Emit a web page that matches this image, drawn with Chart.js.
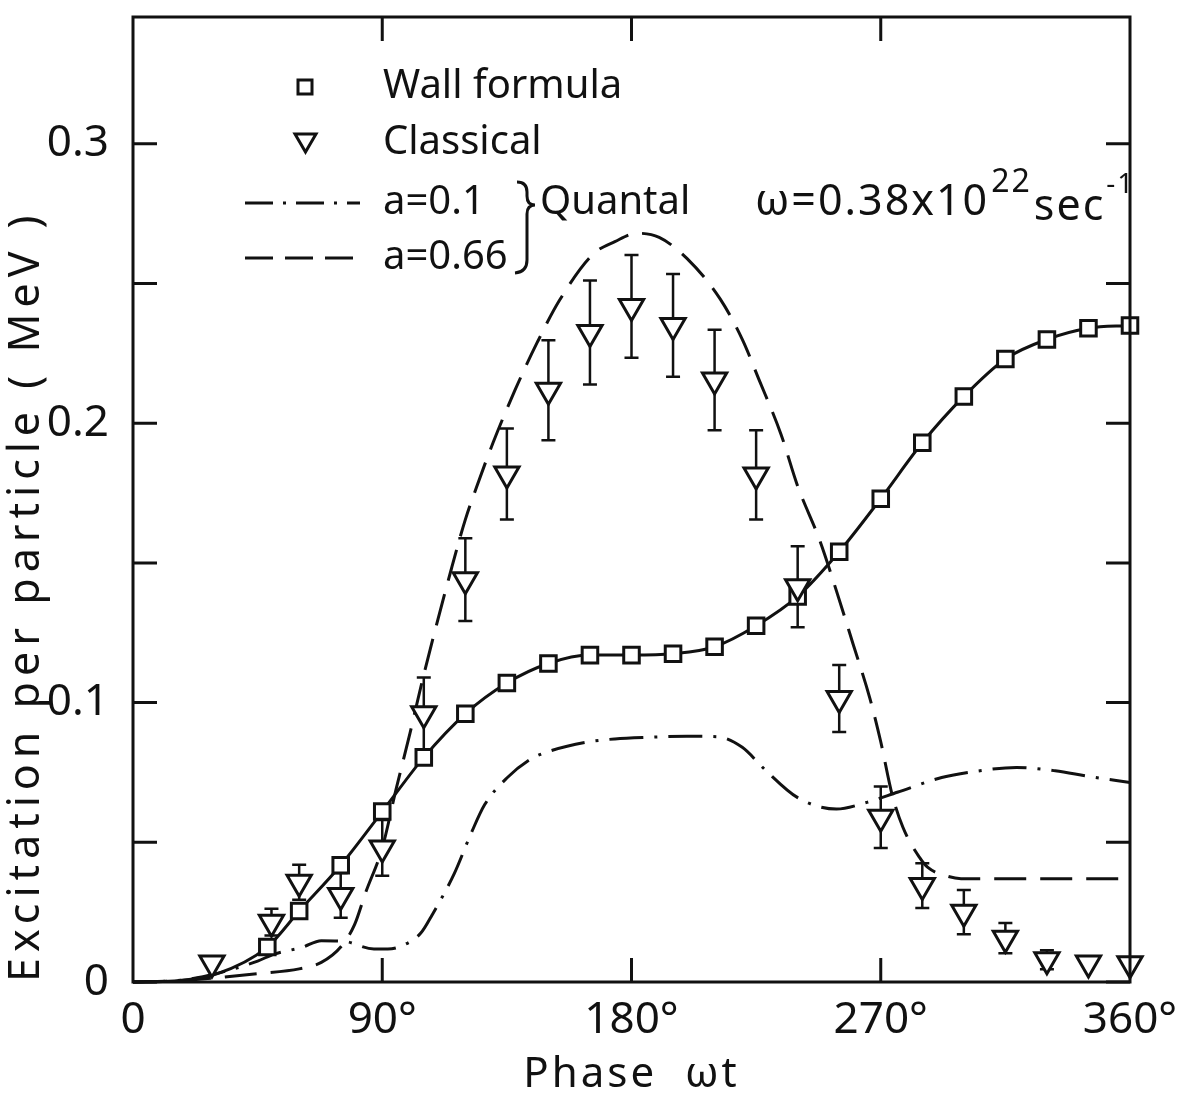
<!DOCTYPE html>
<html>
<head>
<meta charset="utf-8">
<title>Excitation per particle vs phase</title>
<script src="https://cdn.jsdelivr.net/npm/chart.js@4.4.1/dist/chart.umd.min.js"></script>
<style>
    html, body { margin: 0; padding: 0; background: #fff; }
    #wrap { position: relative; width: 1193px; height: 1102px; }
</style>
</head>
<body>
<div id="wrap"><canvas id="chart" width="1193" height="1102"></canvas></div>
<script>
// phase in degrees, excitation in MeV
const wallPhase = [0, 15, 30, 48.5, 60, 75, 90, 105, 120, 135, 150, 165, 180, 195, 210, 225, 240, 255, 270, 285, 300, 315, 330, 345, 360];
const wallExc = [0, 0.0004, 0.0028, 0.0125, 0.0254, 0.0418, 0.061, 0.0804, 0.096, 0.107, 0.114, 0.117, 0.117, 0.1175, 0.120, 0.1275, 0.138, 0.154, 0.173, 0.193, 0.2096, 0.223, 0.230, 0.234, 0.235];
const wallMarker = [false, false, false, true, true, true, true, true, true, true, true, true, true, true, true, true, true, true, true, true, true, true, true, true, true];

const classPhase = [28.5, 50, 60, 75, 90, 105, 120, 135, 150, 165, 180, 195, 210, 225, 240, 255, 270, 285, 300, 315, 330, 345, 360];
const classExc = [0.0068, 0.0214, 0.0357, 0.031, 0.048, 0.096, 0.144, 0.1818, 0.2118, 0.2325, 0.2418, 0.235, 0.2155, 0.1815, 0.1415, 0.1015, 0.059, 0.0345, 0.025, 0.0157, 0.008, 0.0068, 0.0065];
const classErr = [0, 0.0048, 0.0063, 0.008, 0.01, 0.013, 0.0148, 0.0163, 0.0179, 0.0186, 0.0184, 0.0184, 0.018, 0.016, 0.0145, 0.012, 0.011, 0.008, 0.0079, 0.0054, 0.0034, 0, 0];

// quantal a=0.66 (dashed)
const q066Phase = [0, 15, 30, 45, 60, 68, 75, 80, 84, 90, 95, 100, 105, 115, 120, 124, 130, 138, 146, 154, 166, 174, 182, 190, 200, 212, 220, 226, 234, 240, 248, 254, 260, 266, 270, 274, 278, 284, 287, 293, 299, 315, 330, 345, 360];
const q066Exc = [0, 0.0004, 0.0015, 0.003, 0.0047, 0.007, 0.0125, 0.0205, 0.032, 0.048, 0.069, 0.089, 0.110, 0.148, 0.1655, 0.177, 0.193, 0.212, 0.229, 0.244, 0.2604, 0.265, 0.268, 0.2665, 0.259, 0.2445, 0.230, 0.2157, 0.196, 0.1775, 0.158, 0.14, 0.121, 0.1018, 0.086, 0.0675, 0.0554, 0.0446, 0.041, 0.0382, 0.037, 0.037, 0.037, 0.037, 0.037];

// quantal a=0.1 (dash-dot)
const q01Phase = [0, 15, 30, 45, 51, 61, 68, 76, 87, 92, 97, 104, 108, 116, 122, 127, 135, 144, 150, 164, 174, 187, 200, 211, 220, 228, 240, 254, 265, 276, 292, 305, 319, 333, 345, 360];
const q01Exc = [0, 0.0004, 0.003, 0.0075, 0.010, 0.0124, 0.0148, 0.0146, 0.0118, 0.0118, 0.0129, 0.0176, 0.024, 0.0388, 0.053, 0.0635, 0.073, 0.080, 0.0825, 0.0859, 0.087, 0.0876, 0.088, 0.0878, 0.084, 0.0762, 0.066, 0.0619, 0.0643, 0.0679, 0.0732, 0.0755, 0.0768, 0.0756, 0.0736, 0.0714];

const xTickValues = [0, 90, 180, 270, 360];
const xTickLabels = ['0', '90°', '180°', '270°', '360°'];
const yTickValues = [0, 0.1, 0.2, 0.3];
const yTickLabels = ['0', '0.1', '0.2', '0.3'];
const yMinorTicks = [0, 0.05, 0.1, 0.15, 0.2, 0.25, 0.3];

const INK = '#111';
const FONT = '"Noto Sans", "DejaVu Sans", sans-serif';

function points(xs, ys) {
    return xs.map((x, i) => ({ x: x, y: ys[i] }));
}

// the axis titles of the original are widely spaced
function spacedTitle(spacing) {
    return scale => {
        if (scale._spaced) return;
        scale._spaced = true;
        const orig = scale.drawTitle.bind(scale);
        scale.drawTitle = function () {
            const c = this.ctx;
            c.save();
            c.letterSpacing = spacing;
            orig();
            c.restore();
        };
    };
}

/**
 * error bars of the classical points
 */
const errorBars = {
    id: 'errorBars',
    beforeDatasetsDraw(chart) {
        const { ctx, scales: { x, y } } = chart;
        ctx.save();
        ctx.strokeStyle = INK;
        ctx.lineWidth = 2.5;
        classPhase.forEach((p, i) => {
            if (!classErr[i]) return;
            const px = x.getPixelForValue(p);
            const top = y.getPixelForValue(classExc[i] + classErr[i]);
            const bot = y.getPixelForValue(classExc[i] - classErr[i]);
            ctx.beginPath();
            ctx.moveTo(px, top);
            ctx.lineTo(px, bot);
            ctx.moveTo(px - 7, top);
            ctx.lineTo(px + 7, top);
            ctx.moveTo(px - 7, bot);
            ctx.lineTo(px + 7, bot);
            ctx.stroke();
        });
        ctx.restore();
    }
};

/**
 * frame with inward ticks
 */
const frame = {
    id: 'frame',
    afterDatasetsDraw(chart) {
        const { ctx, chartArea: a, scales: { x, y } } = chart;
        ctx.save();
        ctx.strokeStyle = INK;
        ctx.lineWidth = 3;
        ctx.strokeRect(a.left, a.top, a.right - a.left, a.bottom - a.top);
        ctx.beginPath();
        yMinorTicks.forEach(v => {
            const py = y.getPixelForValue(v);
            ctx.moveTo(a.left, py);
            ctx.lineTo(a.left + 24, py);
            ctx.moveTo(a.right, py);
            ctx.lineTo(a.right - 24, py);
        });
        xTickValues.slice(1, -1).forEach(v => {
            const px = x.getPixelForValue(v);
            ctx.moveTo(px, a.bottom);
            ctx.lineTo(px, a.bottom - 24);
            ctx.moveTo(px, a.top);
            ctx.lineTo(px, a.top + 24);
        });
        ctx.stroke();
        ctx.restore();
    }
};

/**
 * legend and annotation text
 */
const annotations = {
    id: 'annotations',
    afterDraw(chart) {
        const ctx = chart.ctx;
        ctx.save();
        ctx.fillStyle = INK;
        ctx.strokeStyle = INK;
        ctx.textBaseline = 'middle';
        ctx.textAlign = 'left';
        ctx.font = '40px ' + FONT;

        // wall formula sample
        ctx.lineWidth = 3;
        ctx.fillStyle = '#fff';
        ctx.fillRect(298, 80, 14, 14);
        ctx.strokeRect(298, 80, 14, 14);
        ctx.fillStyle = INK;
        ctx.fillText('Wall formula', 383, 87);

        // classical sample
        ctx.beginPath();
        ctx.moveTo(295, 134);
        ctx.lineTo(316, 134);
        ctx.lineTo(305.5, 152);
        ctx.closePath();
        ctx.stroke();
        ctx.fillText('Classical', 383, 143);

        // quantal samples
        ctx.setLineDash([28, 10, 3, 10]);
        ctx.beginPath();
        ctx.moveTo(245, 203);
        ctx.lineTo(360, 203);
        ctx.stroke();
        ctx.setLineDash([28, 12]);
        ctx.beginPath();
        ctx.moveTo(245, 258);
        ctx.lineTo(360, 258);
        ctx.stroke();
        ctx.setLineDash([]);
        ctx.fillText('a=0.1', 383, 203);
        ctx.fillText('a=0.66', 383, 258);

        // brace
        ctx.beginPath();
        ctx.moveTo(517, 182);
        ctx.quadraticCurveTo(527, 182, 527, 192);
        ctx.lineTo(527, 196);
        ctx.quadraticCurveTo(527, 205, 535, 205);
        ctx.quadraticCurveTo(527, 205, 527, 214);
        ctx.lineTo(527, 260);
        ctx.quadraticCurveTo(527, 272, 515, 273);
        ctx.stroke();
        ctx.fillText('Quantal', 540, 203);

        // omega
        ctx.letterSpacing = '2px';
        ctx.font = '43px ' + FONT;
        let cx = 755;
        const base = '\u03c9=0.38x10';
        ctx.fillText(base, cx, 203);
        cx += ctx.measureText(base).width + 2;
        ctx.font = '32px ' + FONT;
        ctx.fillText('22', cx, 183);
        cx += ctx.measureText('22').width + 2;
        ctx.font = '43px ' + FONT;
        ctx.fillText('sec', cx, 208);
        cx += ctx.measureText('sec').width + 1;
        ctx.font = '28px ' + FONT;
        ctx.fillText('-1', cx, 185);
        ctx.restore();
    }
};

Chart.defaults.font.family = FONT;
Chart.defaults.color = INK;

const ctx = document.getElementById('chart').getContext('2d');
new Chart(ctx, {
    type: 'scatter',
    data: {
        datasets: [
            {
                label: 'Classical',
                data: points(classPhase, classExc),
                showLine: false,
                pointStyle: 'triangle',
                rotation: 180,
                pointRadius: 14,
                pointBorderWidth: 3,
                pointBackgroundColor: '#fff',
                pointBorderColor: INK,
                clip: false
            },
            {
                label: 'Wall formula',
                data: points(wallPhase, wallExc),
                showLine: true,
                borderColor: INK,
                borderWidth: 3,
                cubicInterpolationMode: 'monotone',
                pointStyle: 'rect',
                pointRadius: wallMarker.map(m => m ? 11 : 0),
                pointBorderWidth: 3,
                pointBackgroundColor: '#fff',
                pointBorderColor: INK,
                clip: false
            },
            {
                label: 'a=0.1',
                data: points(q01Phase, q01Exc),
                showLine: true,
                borderColor: INK,
                borderWidth: 3,
                borderDash: [34, 11, 3, 11],
                cubicInterpolationMode: 'monotone',
                pointRadius: 0,
                clip: false
            },
            {
                label: 'a=0.66',
                data: points(q066Phase, q066Exc),
                showLine: true,
                borderColor: INK,
                borderWidth: 3,
                borderDash: [32, 14],
                cubicInterpolationMode: 'monotone',
                pointRadius: 0,
                clip: false
            }
        ]
    },
    options: {
        responsive: false,
        animation: false,
        events: [],
        layout: { padding: { top: 1, right: 63, left: 0, bottom: 0 } },
        plugins: {
            legend: { display: false },
            tooltip: { enabled: false }
        },
        scales: {
            x: {
                type: 'linear',
                min: 0,
                max: 360,
                grid: { display: false, drawTicks: false },
                border: { display: false },
                afterBuildTicks: scale => {
                    scale.ticks = xTickValues.map(v => ({ value: v }));
                },
                afterFit: scale => {
                    scale.height = 120;
                },
                afterUpdate: spacedTitle('3px'),
                ticks: {
                    autoSkip: false,
                    maxRotation: 0,
                    padding: 12,
                    font: { size: 44 },
                    callback: v => xTickLabels[xTickValues.indexOf(v)]
                },
                title: {
                    display: true,
                    text: 'Phase  \u03c9t',
                    font: { size: 42 },
                    padding: { top: 0, bottom: 2 }
                }
            },
            y: {
                type: 'linear',
                min: 0,
                max: 0.3454,
                grid: { display: false, drawTicks: false },
                border: { display: false },
                afterBuildTicks: scale => {
                    scale.ticks = yTickValues.map(v => ({ value: v }));
                },
                afterFit: scale => {
                    scale.width = 133;
                    scale.paddingTop = 0;
                    scale.paddingBottom = 0;
                },
                afterUpdate: spacedTitle('6px'),
                ticks: {
                    padding: 24,
                    font: { size: 44 },
                    callback: v => yTickLabels[yTickValues.indexOf(v)]
                },
                title: {
                    display: true,
                    align: 'start',
                    text: 'Excitation per particle ( MeV )',
                    font: { size: 43 },
                    padding: { top: 1, bottom: 0 }
                }
            }
        }
    },
    plugins: [errorBars, frame, annotations]
});
</script>
</body>
</html>
